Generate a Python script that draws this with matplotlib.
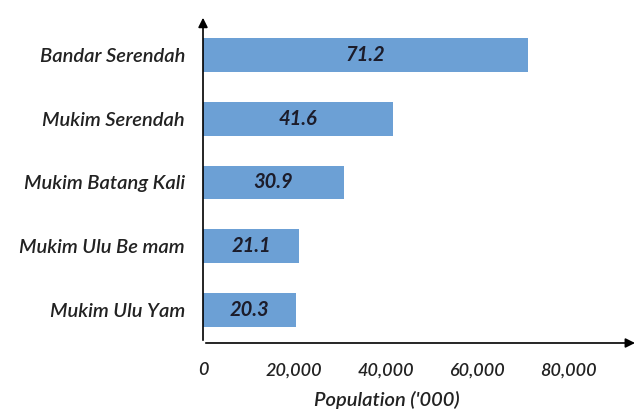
import matplotlib.pyplot as plt

# data, bottom to top as drawn
areas = ["Mukim Ulu Yam", "Mukim Ulu Bernam", "Mukim Batang Kali", "Mukim Serendah", "Bandar Serendah"]
area_labels = ["Mukim Ulu Yam", "Mukim Ulu Be mam", "Mukim Batang Kali", "Mukim Serendah", "Bandar Serendah"]
population = [20300, 21100, 30900, 41600, 71200]
xticks = [0, 20000, 40000, 60000, 80000]
xtick_labels = ["0", "20,000", "40,000", "60,000", "80,000"]

plt.rcParams['font.family'] = ['Lato', 'DejaVu Sans']

fig = plt.figure(figsize=(6.41, 4.13), dpi=100)
ax = fig.add_axes([0.3167, 0.1695, 0.6783, 0.7942])

ypos = list(range(len(areas)))
bars = ax.barh(ypos, population, height=0.53, color="#6CA0D5", edgecolor="none")

for b, v in zip(bars, population):
    ax.text(b.get_width() / 2, b.get_y() + b.get_height() / 2, f"{v / 1000:.1f}",
            ha="center", va="center", fontsize=14.5, fontweight="bold",
            style="italic", color="#1c1c2a")

ax.set_xlim(0, 95300)
ax.set_ylim(-0.52, 4.63)

for s in ax.spines.values():
    s.set_visible(False)

# axes with arrows
ax.annotate("", xy=(0, 1), xytext=(0, 0), xycoords="axes fraction",
            arrowprops=dict(arrowstyle="-|>", color="black", lw=1.2, mutation_scale=14))
ax.annotate("", xy=(1, 0), xytext=(0, 0), xycoords="axes fraction",
            arrowprops=dict(arrowstyle="-|>", color="black", lw=1.2, mutation_scale=14))

ax.set_yticks(ypos)
ax.set_yticklabels(area_labels, fontsize=14.5, style="italic", fontweight="semibold", color="#222222")
ax.set_xticks(xticks)
ax.set_xticklabels(xtick_labels, fontsize=13, style="italic", fontweight="semibold", color="#222222")
ax.tick_params(axis="both", length=0)
ax.tick_params(axis="y", pad=13)
ax.tick_params(axis="x", pad=14)

fig.text(0.604, 0.032, "Population ('000)", ha="center", va="center", fontsize=14.5,
         style="italic", fontweight="semibold", color="#222222")

fig.savefig("out.png", dpi=100)
